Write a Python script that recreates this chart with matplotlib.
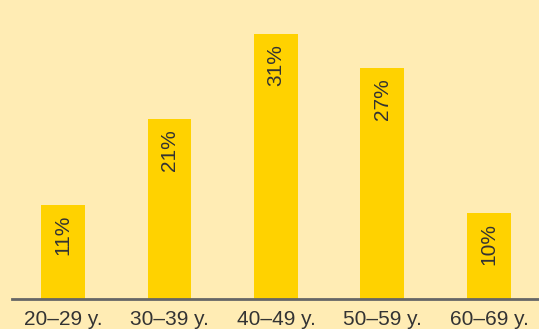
import matplotlib.pyplot as plt

age_groups = ["20–29 y.", "30–39 y.", "40–49 y.", "50–59 y.", "60–69 y."]
shares = [11, 21, 31, 27, 10]

bg = "#FFECB4"
bar_color = "#FFD200"
text_color = "#333333"

plt.rcParams["font.family"] = ["Liberation Sans", "DejaVu Sans"]

fig = plt.figure(figsize=(5.39, 3.29), dpi=100, facecolor=bg)
ax = fig.add_axes([12 / 539, 30 / 329, 527 / 539, 299 / 329])
ax.set_facecolor(bg)

x = list(range(len(shares)))
ax.bar(x, shares, width=0.413, color=bar_color)

for xi, v in zip(x, shares):
    ax.annotate(f"{v}%", (xi, v), xytext=(0, -7), textcoords="offset points",
                rotation=90, ha="center", va="top", fontsize=15, color=text_color)

ax.set_xlim(-0.479, 4.47)
ax.set_ylim(0, 34.97)
ax.set_xticks(x)
ax.set_xticklabels(age_groups, fontsize=15, color=text_color)
ax.tick_params(axis="x", length=0, pad=8)
ax.set_yticks([])
for side in ["top", "right", "left"]:
    ax.spines[side].set_visible(False)
ax.spines["bottom"].set_color("#666666")
ax.spines["bottom"].set_linewidth(2)

fig.savefig("out.png", dpi=100, facecolor=bg)
